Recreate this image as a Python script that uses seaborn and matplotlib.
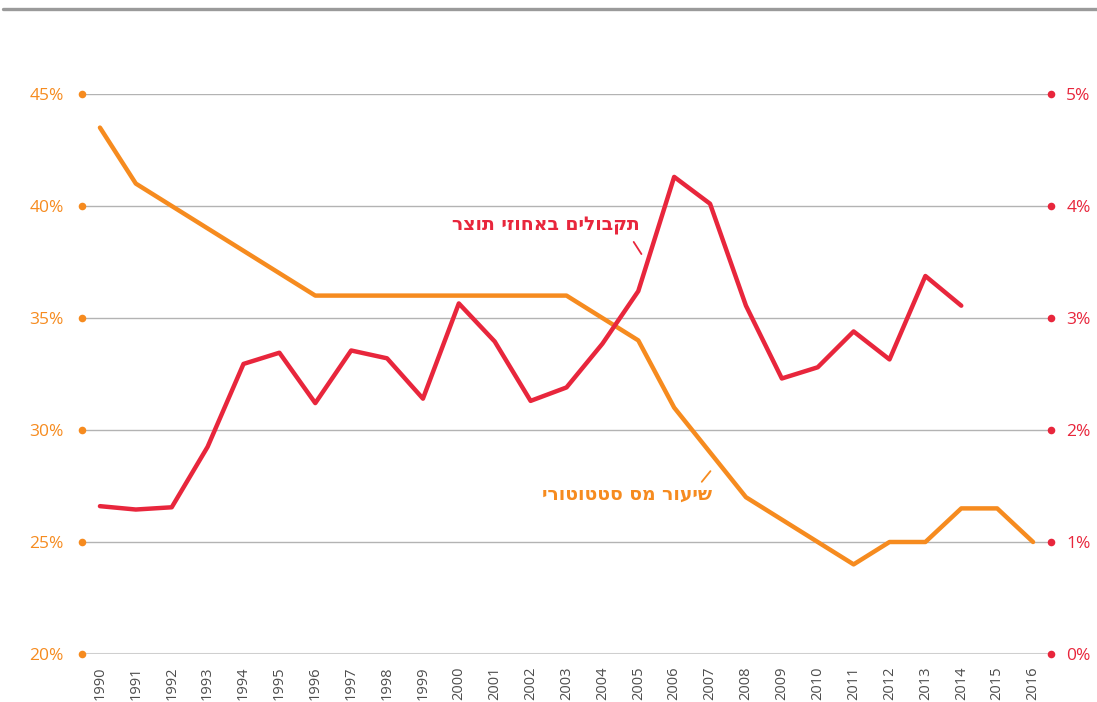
import matplotlib
matplotlib.use("Agg")
import matplotlib.pyplot as plt
from matplotlib.lines import Line2D
import numpy as np
import pandas as pd
import seaborn as sns

# Statutory corporate tax rate (%) and corporate tax receipts (% of GDP)
years = list(range(1990, 2017))
tax_rate = [43.5, 41, 40, 39, 38, 37, 36, 36, 36, 36, 36, 36, 36, 36, 35, 34,
            31, 29, 27, 26, 25, 24, 25, 25, 26.5, 26.5, 25]
receipts_years = list(range(1990, 2015))
receipts = [1.32, 1.29, 1.31, 1.85, 2.59, 2.69, 2.24, 2.71, 2.64, 2.28, 3.13,
            2.79, 2.26, 2.38, 2.77, 3.24, 4.26, 4.02, 3.11, 2.46, 2.56, 2.88,
            2.63, 3.375, 3.11]

left_ticks = [20, 25, 30, 35, 40, 45]
right_ticks = [0, 1, 2, 3, 4, 5]

label_receipts = "תקבולים באחוזי תוצר"
label_rate = "שיעור מס סטטוטורי"

ORANGE = "#f68b1f"
RED = "#e8263c"
GRID = "#b3b3b3"

sns.set_theme(style="white")
plt.rcParams["font.family"] = ["Open Sans", "DejaVu Sans"]


def rtl(s):
    # matplotlib lays text out left-to-right; flip Hebrew so it reads correctly
    return s[::-1]


df_rate = pd.DataFrame({"year": years, "rate": tax_rate})
df_rec = pd.DataFrame({"year": receipts_years, "receipts": receipts})

fig = plt.figure(figsize=(10.97, 7.02), dpi=100)
ax = fig.add_axes([82 / 1097, 1 - 654 / 702, (1051 - 82) / 1097, (654 - 94) / 702])
ax2 = ax.twinx()

for a in (ax, ax2):
    for s in a.spines.values():
        s.set_visible(False)
    a.set_facecolor("none")

ax.set_xlim(1989.5, 2016.5)
ax.set_ylim(20, 45)
ax2.set_ylim(0, 5)

# horizontal guides
for v in left_ticks:
    if v == left_ticks[0]:
        ax.axhline(v, xmin=0.004, xmax=0.996, color="#cfcfcf", lw=2.2, zorder=0)
    else:
        ax.axhline(v, xmin=0.004, xmax=0.996, color=GRID, lw=1.0, zorder=0)

sns.lineplot(data=df_rate, x="year", y="rate", ax=ax, color=ORANGE, lw=3.2,
             legend=False, zorder=3)
sns.lineplot(data=df_rec, x="year", y="receipts", ax=ax2, color=RED, lw=3.2,
             legend=False, zorder=4)

# axis dots at the ends of each guide
ax.scatter([0] * len(left_ticks), left_ticks, transform=ax.get_yaxis_transform(),
           s=30, color=ORANGE, clip_on=False, zorder=5, linewidths=0)
ax2.scatter([1] * len(right_ticks), right_ticks, transform=ax2.get_yaxis_transform(),
            s=30, color=RED, clip_on=False, zorder=5, linewidths=0)

ax.set_yticks(left_ticks)
ax.set_yticklabels([f"{v}%" for v in left_ticks], color=ORANGE, fontsize=12.5)
ax2.set_yticks(right_ticks)
ax2.set_yticklabels([f"{v}%" for v in right_ticks], color=RED, fontsize=12.5)
ax.tick_params(axis="y", length=0, pad=13)
ax2.tick_params(axis="y", length=0, pad=11)

ax.set_xticks(years)
ax.set_xticklabels([str(y) for y in years], rotation=90, color="#4d4d4d",
                   fontsize=10.5)
ax.tick_params(axis="x", length=0, pad=9)
ax.set_xlabel("")
ax.set_ylabel("")
ax2.set_ylabel("")
ax.grid(False)
ax2.grid(False)

# series labels with leader lines
hebrew_font = ["DejaVu Sans"]
ax2.annotate("", xy=(2005.13, 3.55), xytext=(2004.83, 3.70),
             arrowprops=dict(arrowstyle="-", color=RED, lw=1.3))
ax2.text(2005.05, 3.83, rtl(label_receipts), color=RED, fontsize=13.5,
         fontweight="bold", family=hebrew_font, ha="right", va="center")
ax.annotate("", xy=(2007.06, 28.26), xytext=(2006.72, 27.59),
            arrowprops=dict(arrowstyle="-", color=ORANGE, lw=1.3))
ax.text(2007.06, 27.15, rtl(label_rate), color=ORANGE, fontsize=13.5,
        fontweight="bold", family=hebrew_font, ha="right", va="center")

# top rule
fig.add_artist(Line2D([3 / 1097, 1], [1 - 9 / 702, 1 - 9 / 702],
                      transform=fig.transFigure, color="#9a9a9a", lw=2.4))

fig.savefig("out.png", dpi=100)
